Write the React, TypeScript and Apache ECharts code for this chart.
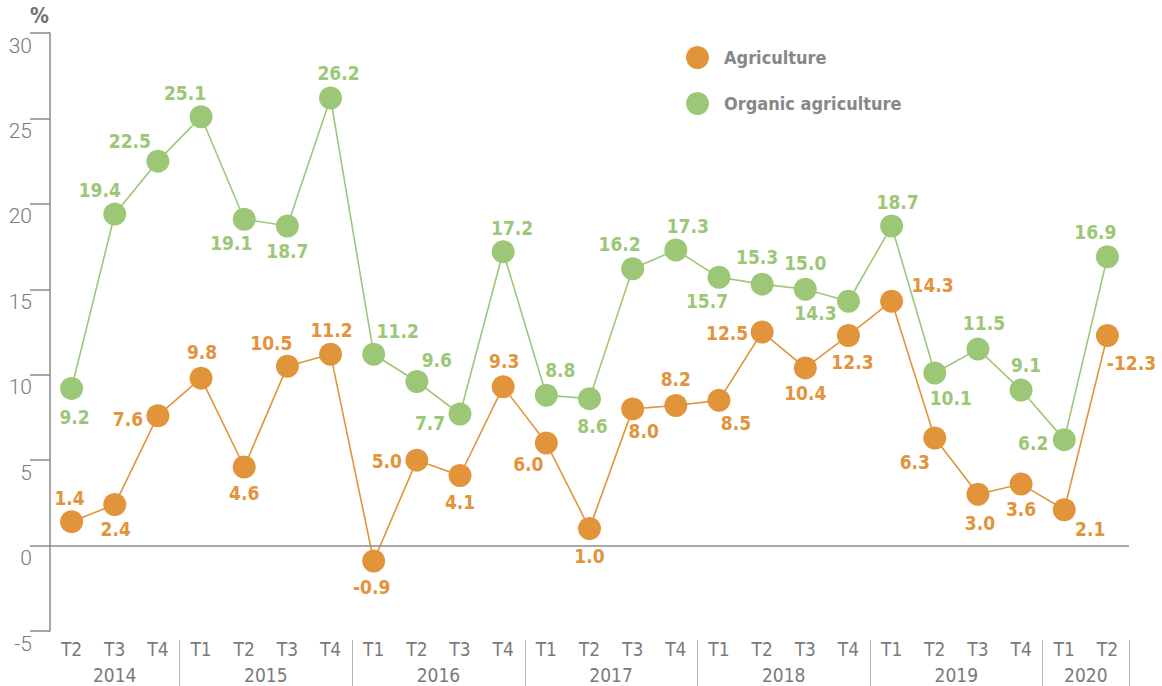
import React, { useEffect, useRef } from "react";
import * as echarts from "echarts";

// ---- data ----
const quarters = [
  "T2", "T3", "T4",
  "T1", "T2", "T3", "T4",
  "T1", "T2", "T3", "T4",
  "T1", "T2", "T3", "T4",
  "T1", "T2", "T3", "T4",
  "T1", "T2", "T3", "T4",
  "T1", "T2",
];
const years = ["2014", "2015", "2016", "2017", "2018", "2019", "2020"];
const quartersPerYear = [3, 4, 4, 4, 4, 4, 2];

const agriculture = [
  1.4, 2.4, 7.6, 9.8, 4.6, 10.5, 11.2, -0.9, 5.0, 4.1, 9.3, 6.0, 1.0, 8.0, 8.2,
  8.5, 12.5, 10.4, 12.3, 14.3, 6.3, 3.0, 3.6, 2.1, 12.3,
];
const organic = [
  9.2, 19.4, 22.5, 25.1, 19.1, 18.7, 26.2, 11.2, 9.6, 7.7, 17.2, 8.8, 8.6, 16.2,
  17.3, 15.7, 15.3, 15.0, 14.3, 18.7, 10.1, 11.5, 9.1, 6.2, 16.9,
];
// label text as printed in the source where it differs from the value
const agricultureLabelOverrides: Record<number, string> = { 24: "-12.3" };

const yTicks = { min: -5, max: 30, interval: 5 };

// ---- layout (label offsets relative to the marker centre) ----
const agriOffsets: [number, number][] = [
  [-2, -24], [1, 24], [-30, 3], [1, -26], [0, 26], [-16, -23], [1, -24],
  [-2, 26], [-30, 1], [0, 26], [1, -26], [-18, 21], [0, 28], [11, 22],
  [0, -26], [17, 23], [-35, 1], [0, 25], [4, 27], [41, -16], [-20, 24],
  [2, 29], [0, 25], [26, 19], [24, 28],
];
const organicOffsets: [number, number][] = [
  [3, 29], [-15, -24], [-28, -20], [-16, -24], [-13, 24], [0, 25], [8, -25],
  [24, -23], [20, -22], [-30, 9], [9, -24], [14, -25], [3, 27], [-13, -25],
  [12, -24], [-12, 24], [-5, -27], [0, -26], [-33, 12], [6, -24], [16, 25],
  [6, -26], [5, -25], [-31, 3], [-12, -25],
];

const ORANGE = "#E1943A";
const GREEN = "#9CC777";
const AXIS = "#8a8a8a";
const TEXT = "#7a7a7a";
const NARROW =
  "'Liberation Sans Narrow', 'DejaVu Sans Condensed', 'Roboto Condensed', Roboto, sans-serif";
const LIGHT = "Roboto, 'Liberation Sans', sans-serif";

export default function App() {
  const ref = useRef<HTMLDivElement>(null);

  useEffect(() => {
    document.body.style.margin = "0";
    if (!ref.current) return;
    const chart = echarts.init(ref.current, undefined, { renderer: "svg" });

    // year axis: 2 slots per quarter (boundaries + centres)
    const slots: string[] = new Array(quarters.length * 2 + 1).fill("");
    const boundaries = new Set<number>();
    let start = 0;
    years.forEach((y, i) => {
      const c = quartersPerYear[i];
      slots[start * 2 + c] = y;
      boundaries.add((start + c) * 2);
      start += c;
    });

    const labelBase = {
      show: true,
      position: "inside",
      fontFamily: NARROW,
      fontSize: 19,
      fontWeight: "bold",
    };

    chart.setOption({
      animation: false,
      grid: {
        left: 50,
        right: 33,
        top: 33,
        bottom: 55,
        containLabel: false,
        outerBoundsMode: "none",
      },
      legend: {
        orient: "vertical",
        left: 681,
        top: 41,
        icon: "circle",
        itemWidth: 23,
        itemHeight: 23,
        itemGap: 23,
        data: ["Agriculture", "Organic agriculture"],
        textStyle: {
          fontFamily: NARROW,
          fontSize: 18,
          fontWeight: "bold",
          color: "#878787",
          padding: [0, 0, 0, 10],
        },
      },
      xAxis: [
        {
          type: "category",
          data: quarters,
          boundaryGap: true,
          axisLine: { show: false, onZero: false },
          axisTick: { show: false },
          axisLabel: {
            margin: 8,
            fontFamily: NARROW,
            fontSize: 19,
            color: TEXT,
            interval: 0,
          },
        },
        {
          type: "category",
          data: slots,
          boundaryGap: false,
          position: "bottom",
          offset: 9,
          axisLine: { show: false, onZero: false },
          axisTick: {
            show: true,
            length: 50,
            interval: (i: number) => boundaries.has(i),
            lineStyle: { color: "#b5b5b5", width: 1 },
          },
          axisLabel: {
            margin: 25,
            fontFamily: NARROW,
            fontSize: 19,
            color: TEXT,
            interval: (i: number) => slots[i] !== "",
          },
        },
      ],
      yAxis: {
        type: "value",
        min: yTicks.min,
        max: yTicks.max,
        interval: yTicks.interval,
        name: "%",
        nameLocation: "end",
        nameGap: 7,
        nameTextStyle: {
          fontFamily: NARROW,
          fontSize: 21,
          fontWeight: "bold",
          color: "#707070",
          align: "right",
          padding: [0, 1, 0, 0],
        },
        splitLine: { show: false },
        axisLine: { show: true, lineStyle: { color: AXIS, width: 1.5 } },
        axisTick: { show: true, length: 20, lineStyle: { color: AXIS, width: 1.5 } },
        axisLabel: {
          margin: 18,
          fontFamily: LIGHT,
          fontWeight: 300,
          fontSize: 21,
          color: TEXT,
          verticalAlign: "top",
          padding: [2, 0, 0, 0],
        },
      },
      series: [
        {
          name: "Organic agriculture",
          type: "line",
          symbol: "circle",
          symbolSize: 23,
          color: GREEN,
          itemStyle: { color: GREEN },
          lineStyle: { color: GREEN, width: 1.6 },
          label: { ...labelBase, color: GREEN, formatter: (p: any) => Number(p.value).toFixed(1) },
          data: organic.map((v, i) => ({ value: v, label: { offset: organicOffsets[i] } })),
          markLine: {
            silent: true,
            symbol: "none",
            label: { show: false },
            lineStyle: { color: AXIS, width: 1.5, type: "solid" },
            data: [{ yAxis: 0 }],
          },
          z: 2,
        },
        {
          name: "Agriculture",
          type: "line",
          symbol: "circle",
          symbolSize: 23,
          color: ORANGE,
          itemStyle: { color: ORANGE },
          lineStyle: { color: ORANGE, width: 1.6 },
          label: {
            ...labelBase,
            color: ORANGE,
            formatter: (p: any) =>
              agricultureLabelOverrides[p.dataIndex] ?? Number(p.value).toFixed(1),
          },
          data: agriculture.map((v, i) => ({ value: v, label: { offset: agriOffsets[i] } })),
          z: 3,
        },
      ],
    });

    return () => chart.dispose();
  }, []);

  return <div ref={ref} style={{ width: 1162, height: 686 }} />;
}
